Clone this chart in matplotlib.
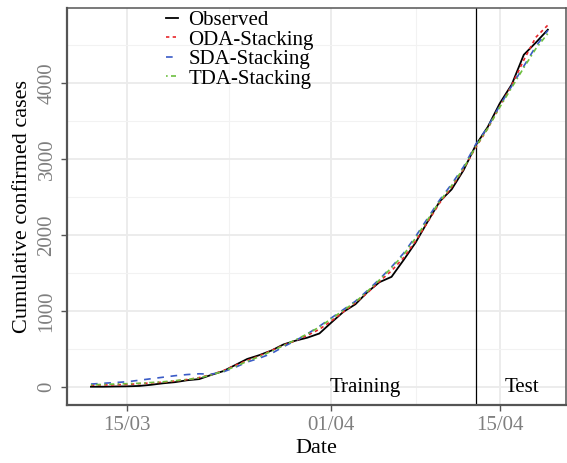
import matplotlib
matplotlib.use("Agg")
import matplotlib.pyplot as plt
import matplotlib.dates as mdates
import pandas as pd

dates = pd.date_range("2020-03-12", "2020-04-19", freq="D")

observed = [5, 5, 8, 10, 15, 30, 50, 65, 90, 105, 160, 210, 290, 370, 420, 480, 560, 610, 650, 705,
            850, 990, 1090, 1250, 1380, 1450, 1670, 1900, 2175, 2440, 2600, 2855, 3180, 3420, 3730,
            3980, 4370, 4530, 4700]
oda = [25, 28, 30, 35, 45, 55, 65, 80, 100, 125, 165, 215, 285, 350, 410, 480, 550, 610, 680, 760,
       870, 990, 1110, 1240, 1390, 1530, 1700, 1920, 2170, 2420, 2630, 2870, 3150, 3400, 3690,
       3970, 4300, 4600, 4760]
sda = [40, 50, 60, 70, 90, 110, 130, 150, 165, 175, 170, 200, 260, 330, 380, 440, 530, 610, 700, 800,
       910, 1020, 1130, 1270, 1420, 1580, 1760, 1980, 2220, 2460, 2670, 2900, 3190, 3420, 3700,
       3960, 4220, 4480, 4690]
tda = [30, 35, 40, 45, 50, 60, 70, 85, 100, 120, 160, 210, 270, 340, 400, 470, 545, 620, 700, 790,
       900, 1010, 1120, 1260, 1410, 1570, 1740, 1960, 2200, 2440, 2650, 2880, 3160, 3400, 3680,
       3940, 4200, 4450, 4650]

split_date = pd.Timestamp("2020-04-13")
major_ticks = pd.to_datetime(["2020-03-15", "2020-04-01", "2020-04-15"])
minor_ticks = pd.to_datetime(["2020-03-23 12:00", "2020-04-08 00:00"])

plt.rcParams["font.family"] = ["Liberation Serif", "DejaVu Serif"]

fig = plt.figure(figsize=(5.67, 4.63), dpi=100)
ax = fig.add_axes([0.118, 0.125, 0.88, 0.858])

ax.plot(dates, observed, color="black", lw=1.3, label="Observed", zorder=3)
ax.plot(dates, oda, color="#E8262B", lw=1.2, ls=(0, (2, 2)), label="ODA-Stacking", zorder=4)
ax.plot(dates, sda, color="#3A5BC7", lw=1.2, ls=(0, (4, 4)), label="SDA-Stacking", zorder=4)
ax.plot(dates, tda, color="#6CBF3F", lw=1.2, ls=(0, (1, 2, 3, 2)), label="TDA-Stacking", zorder=4)

ax.axvline(split_date, color="black", lw=0.9, zorder=2)
ax.text(pd.Timestamp("2020-04-03 20:00"), 0, "Training", ha="center", va="center", fontsize=15)
ax.text(pd.Timestamp("2020-04-16 20:00"), 0, "Test", ha="center", va="center", fontsize=15)

ax.set_xlim(pd.Timestamp("2020-03-10 00:00"), pd.Timestamp("2020-04-20 12:00"))
ax.set_ylim(-237, 4987)

ax.set_xticks(major_ticks)
ax.set_xticks(minor_ticks, minor=True)
ax.xaxis.set_major_formatter(mdates.DateFormatter("%d/%m"))
ax.set_yticks([0, 1000, 2000, 3000, 4000])
ax.set_yticks([500, 1500, 2500, 3500, 4500], minor=True)

ax.grid(True, which="major", color="#EBEBEB", lw=1.3, zorder=0)
ax.grid(True, which="minor", color="#F2F2F2", lw=0.8, zorder=0)
ax.set_axisbelow(True)

ax.tick_params(axis="both", which="major", labelsize=15, labelcolor="#7F7F7F",
               color="#555555", length=4, width=1)
ax.tick_params(axis="both", which="minor", length=0)
for lab in ax.get_yticklabels():
    lab.set_rotation(90)
    lab.set_va("center")

for sp in ax.spines.values():
    sp.set_color("#555555")
    sp.set_linewidth(1.1)
ax.spines["left"].set_linewidth(1.6)
ax.spines["bottom"].set_linewidth(1.6)

ax.set_xlabel("Date", fontsize=16, labelpad=3)
ax.set_ylabel("Cumulative confirmed cases", fontsize=16, labelpad=4)

ax.legend(loc="upper left", bbox_to_anchor=(0.177, 1.02), frameon=False, fontsize=15,
          handlelength=0.6, handletextpad=0.5, labelspacing=0.0, borderpad=0)

fig.savefig("out.png", dpi=100)
